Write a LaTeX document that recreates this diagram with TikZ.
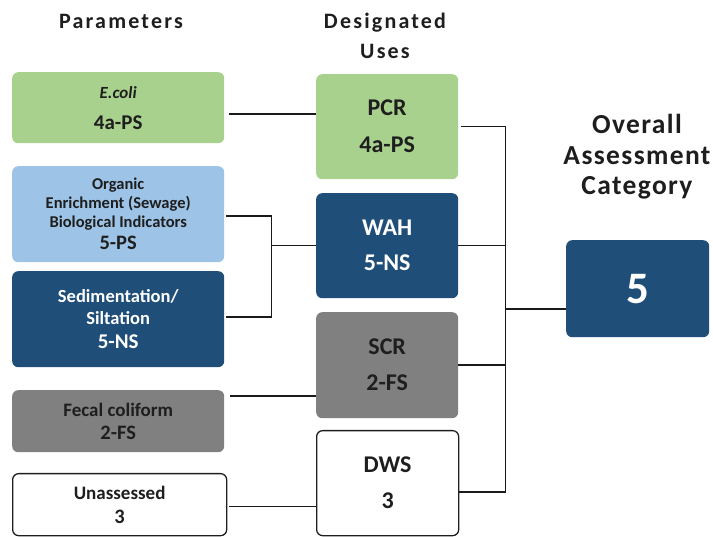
\documentclass[tikz,border=0pt]{standalone}
\usepackage{fontspec}
\setmainfont{Carlito}
\usetikzlibrary{calc}
\definecolor{cgreen}{HTML}{A9D18E}
\definecolor{clblue}{HTML}{9DC3E6}
\definecolor{cdblue}{HTML}{1F4E79}
\definecolor{cgray}{HTML}{808080}
\definecolor{ctext}{HTML}{1E1E1E}
\definecolor{cline}{HTML}{1A1A1A}
\tikzset{
  box/.style={rectangle, rounded corners=6pt, inner sep=0pt, anchor=north west, align=center, text=ctext, font=\bfseries},
  whitebox/.style={box, fill=white, draw=ctext, line width=1.3pt},
  conn/.style={draw=cline, line width=1.4pt},
  head/.style={align=center, text=ctext, font=\bfseries\fontsize{22}{30}\selectfont\addfontfeatures{LetterSpace=10}},
}
\begin{document}
\begin{tikzpicture}[x=1pt,y=-1pt]
\useasboundingbox (0,0) rectangle (713,537);
% headers
\node[head] (hpar) at (121,21) {Parameters};
\node[head] (huses) at (385,36) {Designated\\Uses};
\node[head, font=\bfseries\fontsize{27.5}{30.5}\selectfont\addfontfeatures{LetterSpace=5}] (hcat) at (637,157) {Overall\\Assessment\\Category};
% left column
\node[box, fill=cgreen, minimum width=212pt, minimum height=71pt, font=\bfseries\fontsize{21}{31}\selectfont] (ecoli) at (12,72)
  {{\fontsize{17}{31}\selectfont\itshape E.coli}\\4a-PS};
\node[box, fill=clblue, minimum width=212pt, minimum height=96pt, font=\bfseries\fontsize{16.5}{19}\selectfont] (org) at (12,166)
  {Organic\\Enrichment (Sewage)\\Biological Indicators\\[3pt]{\fontsize{20.5}{19}\selectfont 5-PS}};
\node[box, fill=cdblue, text=white, minimum width=212pt, minimum height=96pt, font=\bfseries\fontsize{18.5}{22}\selectfont] (sed) at (12,271)
  {Sedimentation/\\Siltation\\[2pt]{\fontsize{21}{22}\selectfont 5-NS}};
\node[box, fill=cgray, minimum width=212pt, minimum height=62pt, font=\bfseries\fontsize{19}{23}\selectfont] (fecal) at (12,390)
  {Fecal coliform\\{\fontsize{20.5}{23}\selectfont 2-FS}};
\node[whitebox, minimum width=214pt, minimum height=62pt, font=\bfseries\fontsize{19}{24}\selectfont] (unas) at (12,473)
  {Unassessed\\{\fontsize{20.5}{24}\selectfont 3}};
% middle column
\node[box, fill=cgreen, minimum width=142pt, minimum height=105pt, font=\bfseries\fontsize{24}{37}\selectfont] (pcr) at (316,74)
  {PCR\\4a-PS};
\node[box, fill=cdblue, text=white, minimum width=142pt, minimum height=105pt, font=\bfseries\fontsize{24}{35}\selectfont] (wah) at (316,193)
  {WAH\\5-NS};
\node[box, fill=cgray, minimum width=142pt, minimum height=106pt, font=\bfseries\fontsize{24}{36}\selectfont] (scr) at (316,312)
  {SCR\\2-FS};
\node[whitebox, minimum width=142pt, minimum height=105pt, font=\bfseries\fontsize{24}{36}\selectfont] (dws) at (316,430)
  {DWS\\3};
% final category
\node[box, fill=cdblue, text=white, minimum width=143pt, minimum height=97pt, font=\bfseries\fontsize{45}{45}\selectfont] (cat) at (566,240)
  {5};
% left connectors
\coordinate (e1) at ([shift={(5,6.5)}]ecoli.east);
\draw[conn] (e1) -- (e1 -| pcr.west);
\coordinate (o1) at ([shift={(2,2)}]org.east);
\coordinate (oj) at ([shift={(45,0)}]o1);
\coordinate (s1) at ([shift={(2,-2)}]sed.east);
\draw[conn] (o1) -- (oj) |- (s1);
\draw[conn] (oj |- wah.west) -- (wah.west);
\coordinate (f1) at ([shift={(6,-25)}]fecal.east);
\draw[conn] (f1) -- (f1 -| scr.west);
\coordinate (u1) at ([shift={(2,2)}]unas.east);
\draw[conn] (u1) -- (u1 -| dws.west);
% right bracket
\coordinate (p1) at ([shift={(3,0)}]pcr.east);
\coordinate (bt) at ([shift={(47,0)}]pcr.east);
\coordinate (d1) at ([shift={(0,9)}]dws.east);
\draw[conn] (p1) -- (bt) -- (bt |- d1) -- (d1);
\draw[conn] (wah.east) -- (wah.east -| bt);
\draw[conn] (scr.east) -- (scr.east -| bt);
\coordinate (c1) at ([shift={(0,20.5)}]cat.west);
\draw[conn] (c1 -| bt) -- (c1);
\end{tikzpicture}
\end{document}
